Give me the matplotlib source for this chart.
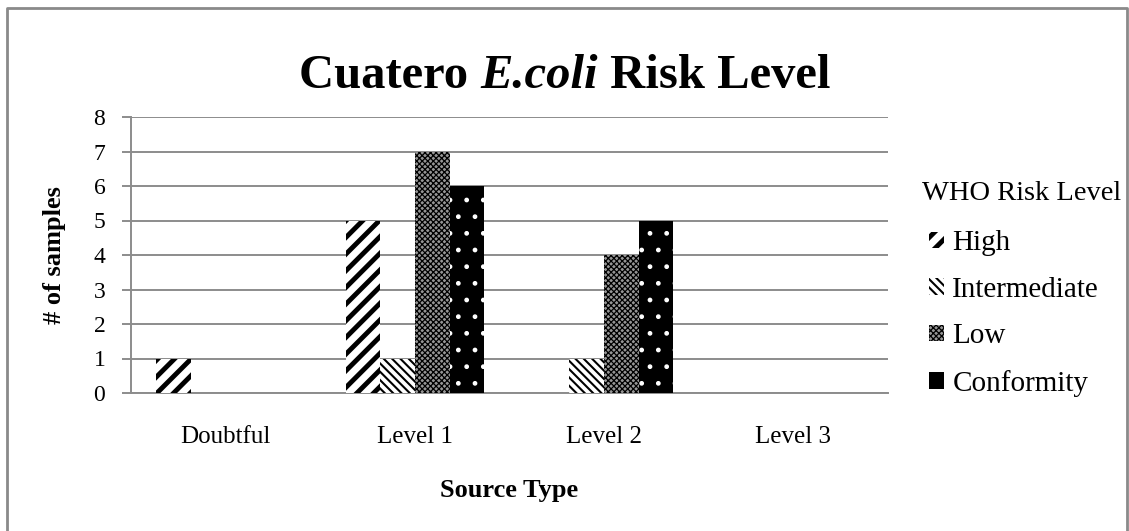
import matplotlib
matplotlib.use("Agg")
import matplotlib.pyplot as plt
from matplotlib.lines import Line2D
import numpy as np

# Data
categories = ["Doubtful", "Level 1", "Level 2", "Level 3"]
series_names = ["High", "Intermediate", "Low", "Conformity"]
high = [1, 5, 0, 0]
intermediate = [0, 1, 1, 0]
low = [0, 7, 4, 0]
conformity = [0, 6, 5, 0]
y_ticks = [0, 1, 2, 3, 4, 5, 6, 7, 8]

series_values = [high, intermediate, low, conformity]

# Bar fill styles: (face, hatch colour, hatch, hatch linewidth)
styles = [
    ("white", "black", "//", 3.5),
    ("white", "black", "\\\\\\\\", 1.5),
    ("#969696", "black", "xxxxxx", 0.9),
    ("black", "white", ".", 1.0),
]

plt.rcParams["font.family"] = ["Liberation Serif", "DejaVu Serif"]

W, H = 1129, 531
fig = plt.figure(figsize=(W / 100, H / 100), dpi=100)

# outer chart frame (left, top, right)
frame_col = "#8a8a8a"
fx0, fx1, fy0 = 7 / W, 1127 / W, 1 - 8 / H
fig.add_artist(Line2D([fx0, fx0, fx1, fx1], [0, fy0, fy0, 0],
                      transform=fig.transFigure, color=frame_col, lw=2.0))

ax_l, ax_r, ax_t, ax_b = 131, 888, 117, 393
ax = fig.add_axes([ax_l / W, 1 - ax_b / H, (ax_r - ax_l) / W, (ax_b - ax_t) / H])

x = np.arange(len(categories))
bw = 0.183
handles = []
for i, (name, vals, st) in enumerate(zip(series_names, series_values, styles)):
    face, hcol, hatch, hlw = st
    with plt.rc_context({"hatch.linewidth": hlw}):
        bars = ax.bar(x + (i - 1.5) * bw, vals, width=bw, color=face,
                      edgecolor=hcol, hatch=hatch, linewidth=0, zorder=3,
                      label=name)
    for b in bars:
        if hasattr(b, "set_hatch_linewidth"):
            b.set_hatch_linewidth(hlw)
    handles.append(bars)

ax.set_xlim(-0.5, len(categories) - 0.5)
ax.set_ylim(0, 8)
ax.set_yticks(y_ticks)
ax.set_xticks(x)
ax.set_xticklabels(categories, fontsize=18)
ax.yaxis.grid(True, color="#8c8c8c", lw=1.4, zorder=0)
ax.set_axisbelow(True)
for s in ["top", "right"]:
    ax.spines[s].set_visible(False)
for s in ["left", "bottom"]:
    ax.spines[s].set_color("#8c8c8c")
    ax.spines[s].set_linewidth(1.4)
ax.tick_params(axis="y", length=6.5, width=1.4, color="#8c8c8c",
               labelsize=17, pad=12)
ax.tick_params(axis="x", length=0, pad=24)

ax.set_xlabel("Source Type", fontsize=19, fontweight="bold", labelpad=22)
ax.set_ylabel("# of samples", fontsize=19, fontweight="bold", labelpad=20)

# title with italic species name, centred as one line
title_y = 1 - 88 / H
t1 = fig.text(0, title_y, "Cuatero ", fontsize=35, fontweight="bold", va="baseline")
t2 = fig.text(0, title_y, "E.coli", fontsize=35, fontweight="bold",
              style="italic", va="baseline")
t3 = fig.text(0, title_y, " Risk Level", fontsize=35, fontweight="bold",
              va="baseline")
fig.canvas.draw()
r = fig.canvas.get_renderer()
ws = [t.get_window_extent(r).width for t in (t1, t2, t3)]
start = (W - sum(ws)) / 2
for t, w in zip((t1, t2, t3), ws):
    t.set_x(start / W)
    start += w

# legend heading sits a little left of the keys
fig.text(922 / W, 1 - 194 / H, "WHO Risk Level", fontsize=20.5,
         ha="left", va="center")
leg = ax.legend(handles=handles, labels=series_names,
                loc="upper left", bbox_to_anchor=(929 / W, 1 - 230.5 / H),
                bbox_transform=fig.transFigure, frameon=False, fontsize=21,
                handlelength=0.5, handleheight=0.5, handletextpad=0.3,
                labelspacing=0.7, borderaxespad=0, borderpad=0)
for p, st in zip(leg.get_patches(), styles):
    if hasattr(p, "set_hatch_linewidth"):
        p.set_hatch_linewidth(st[3])
# the dotted fill reads as solid black at legend-key size
leg.get_patches()[3].set_hatch(None)

fig.savefig("out.png", dpi=100)
